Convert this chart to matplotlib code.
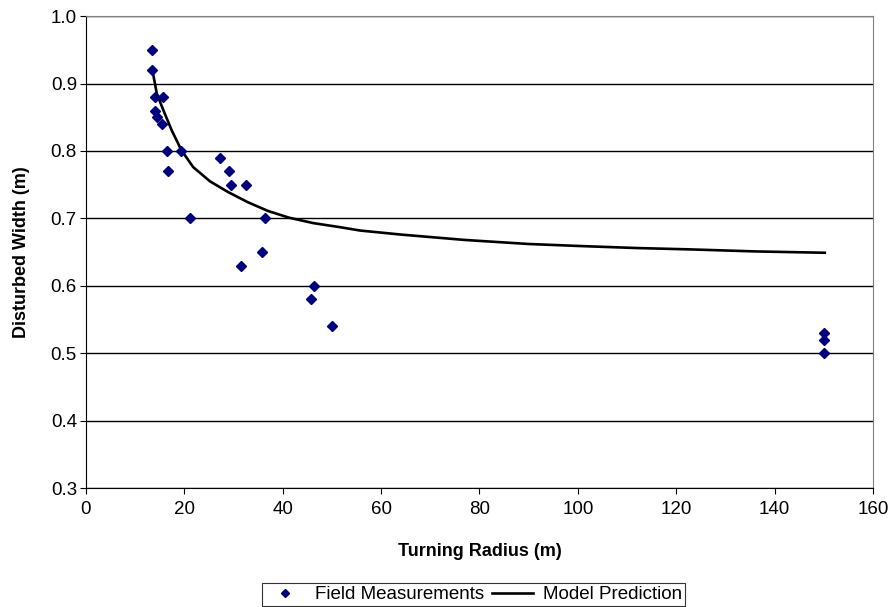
import numpy as np
import matplotlib
matplotlib.use('Agg')
import matplotlib.pyplot as plt

plt.rcParams['font.family'] = ['Liberation Sans', 'DejaVu Sans']

# field measurements (turning radius m, disturbed width m)
field_r = [13.5, 13.5, 14.0, 15.6, 14.0, 14.4, 15.5, 16.5, 19.4, 16.7,
           27.2, 29.1, 29.5, 32.6, 21.1, 36.4, 31.6, 35.8, 46.3, 45.7,
           50.0, 150.0, 150.0, 150.0]
field_w = [0.95, 0.92, 0.88, 0.88, 0.86, 0.85, 0.84, 0.80, 0.80, 0.77,
           0.79, 0.77, 0.75, 0.75, 0.70, 0.70, 0.63, 0.65, 0.60, 0.58,
           0.54, 0.53, 0.52, 0.50]

# model prediction curve
model_r = [13.5, 14.4, 15.7, 17.4, 19.4, 21.8, 25.2, 28.9, 32.9, 37.0,
           41.3, 46.2, 51.6, 55.7, 64, 77, 90, 100.4, 112, 122.8, 136, 150.2]
model_w = [0.92, 0.885, 0.861, 0.831, 0.801, 0.776, 0.755, 0.739, 0.724, 0.711,
           0.701, 0.693, 0.687, 0.682, 0.676, 0.668, 0.662, 0.659, 0.656, 0.654,
           0.651, 0.649]

fig = plt.figure(figsize=(8.93, 6.07), dpi=100)
ax = fig.add_axes([0.0963, 0.196, 0.8813, 0.7774])

ax.set_xlim(0, 160)
ax.set_ylim(0.3, 1.0)
ax.set_xticks(np.arange(0, 161, 20))
ax.set_yticks(np.arange(0.3, 1.01, 0.1))
ax.set_yticklabels(['%.1f' % v for v in np.arange(0.3, 1.01, 0.1)])
ax.yaxis.grid(True, color='black', linewidth=1.0)
ax.set_axisbelow(True)

ax.plot(model_r, model_w, color='black', linewidth=1.9, label='Model Prediction', zorder=3)
ax.plot(field_r, field_w, linestyle='none', marker='D', markersize=5,
        color='#000080', label='Field Measurements', zorder=4)

for s in ['top', 'right']:
    ax.spines[s].set_color('#808080')
for s in ['left', 'bottom']:
    ax.spines[s].set_color('black')

ax.tick_params(direction='out', length=4.5, pad=2, labelsize=13.5, colors='black')
ax.tick_params(axis='x', pad=5)
ax.set_xlabel('Turning Radius (m)', fontsize=13, fontweight='bold', labelpad=18)
ax.set_ylabel('Disturbed Width (m)', fontsize=13, fontweight='bold', labelpad=15)

handles, labels = ax.get_legend_handles_labels()
leg = fig.legend(handles[::-1], labels[::-1], loc='lower center', bbox_to_anchor=(0.53, 0.0),
                 ncol=2, fontsize=13.5, frameon=True, fancybox=False,
                 edgecolor='black', handlelength=2.2, columnspacing=0.4,
                 handletextpad=0.5, borderpad=0.15, markerscale=0.8,
                 borderaxespad=0.05)
leg.get_frame().set_linewidth(0.8)

fig.savefig('out.png', dpi=100)
